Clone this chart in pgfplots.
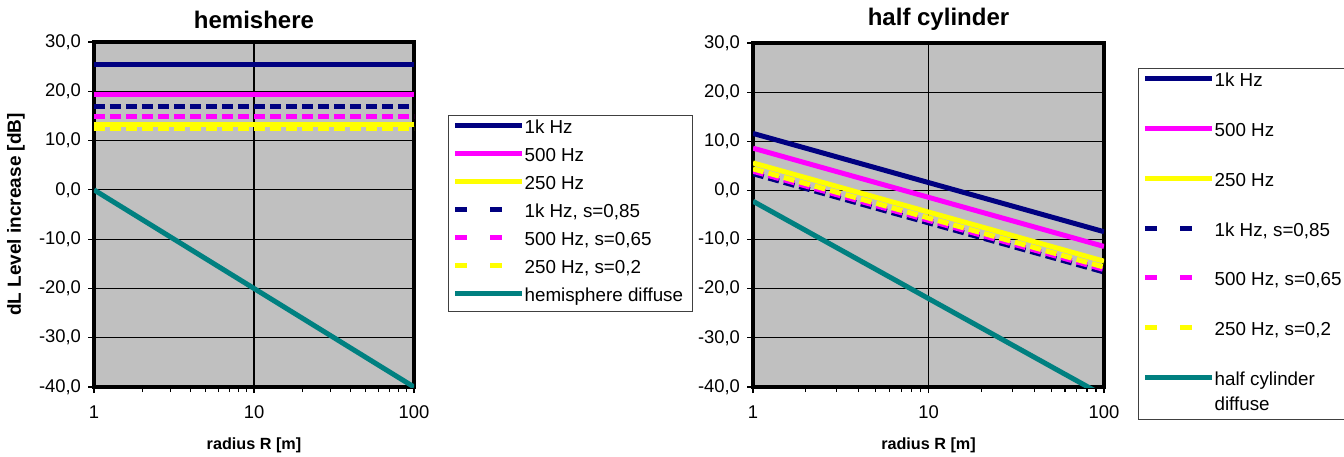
\documentclass[border=0pt]{standalone}
\usepackage{fontspec}
\setmainfont{Liberation Sans}
\usepackage{pgfplots}
\usepackage{pgfplotstable}
\pgfplotsset{compat=1.18}

\definecolor{navyc}{RGB}{0,0,128}
\definecolor{magc}{RGB}{255,0,255}
\definecolor{yelc}{RGB}{255,255,0}
\definecolor{tealc}{RGB}{0,128,128}
\definecolor{bgc}{RGB}{192,192,192}

% hemisphere
\pgfplotstableread{
R   f1k   f500  f250  s1k   s500  s250  diff
1   25.4  19.4  13.3  17.0  14.9  12.4    0.0
10  25.4  19.4  13.3  17.0  14.9  12.4  -20.0
100 25.4  19.4  13.3  17.0  14.9  12.4  -40.0
}\hemi
% half cylinder
\pgfplotstableread{
R   f1k   f500  f250  s1k   s500  s250  diff
1   11.6   8.6   5.6   3.4   3.9   4.4   -2.2
10   1.6  -1.4  -4.4  -6.6  -6.1  -5.6  -22.0
100 -8.4 -11.4 -14.4 -16.6 -16.1 -15.6  -41.8
}\cyl

\pgfplotsset{
  every axis/.append style={
    scale only axis,
    ymin=-40, ymax=30,
    xtick={1,10,100}, xticklabels={1,10,100},
    minor xtick={2,3,4,5,6,7,8,9,20,30,40,50,60,70,80,90},
    ytick={-40,-30,-20,-10,0,10,20,30},
    yticklabels={{-40,0},{-30,0},{-20,0},{-10,0},{0,0},{10,0},{20,0},{30,0}},
    axis background/.style={fill=bgc},
    xmajorgrids, ymajorgrids,
    major grid style={black, line width=0.6pt},
    axis line style={black, line width=1.6pt},
    tick align=outside, tick pos=left,
    major tick length=3pt, minor tick length=2.5pt,
    tick style={black, line width=0.6pt},
    ticklabel style={font=\fontsize{9.2}{11}\selectfont},
    xticklabel style={yshift=-3pt},
    title style={font=\bfseries\fontsize{12}{14}\selectfont, at={(axis description cs:0.5,1)}, anchor=base},
    xlabel style={font=\bfseries\fontsize{8.1}{10}\selectfont, at={(axis description cs:0.5,0)}, anchor=center, yshift=-29pt},
    legend style={draw=black!75, line width=0.6pt, fill=white, anchor=north west,
      inner xsep=2pt, inner ysep=1.5pt, cells={anchor=base west},
      nodes={inner sep=0pt, text depth={}, font=\fontsize{9.4}{10.8}\selectfont,
        execute at begin node=\strut, execute at end node=\hspace{2.5pt}}},
  },
  solidser/.style={line width=2.5pt, no marks},
  dashser/.style={line width=2.5pt, no marks, dash pattern=on 5.5pt off 2.5pt,
    legend image post style={dash pattern=on 6pt off 11.5pt}},
}

\begin{document}
\begin{tikzpicture}
\path[use as bounding box] (0,0) rectangle (672pt,228pt);

\begin{axis}[xmode=log, xmin=1, xmax=100,
  at={(47pt,34.5pt)}, anchor=south west,
  width=160pt, height=172.5pt,
  title={hemishere}, title style={yshift=1pt},
  xlabel={radius R [m]},
  ylabel={dL Level increase [dB]},
  ylabel style={font=\bfseries\fontsize{9.5}{11}\selectfont, at={(axis description cs:-0.2438,0.5)}, anchor=center},
  legend image code/.code={\draw[#1] (0pt,4pt) -- (33.5pt,4pt);},
  legend style={at={(1.10625,0.7884)}, row sep=3.2pt}]
\addplot[solidser, navyc] table[x=R, y=f1k] {\hemi};
\addlegendentry{1k Hz}
\addplot[solidser, magc] table[x=R, y=f500] {\hemi};
\addlegendentry{500 Hz}
\addplot[solidser, yelc] table[x=R, y=f250] {\hemi};
\addlegendentry{250 Hz}
\addplot[dashser, navyc] table[x=R, y=s1k] {\hemi};
\addlegendentry{1k Hz, s=0,85}
\addplot[dashser, magc] table[x=R, y=s500] {\hemi};
\addlegendentry{500 Hz, s=0,65}
\addplot[dashser, yelc] table[x=R, y=s250] {\hemi};
\addlegendentry{250 Hz, s=0,2}
\addplot[solidser, tealc] table[x=R, y=diff] {\hemi};
\addlegendentry{hemisphere diffuse}
\end{axis}

\begin{axis}[xmode=log, xmin=1, xmax=100,
  at={(376.5pt,34.5pt)}, anchor=south west,
  width=175.5pt, height=172pt,
  title={half cylinder}, title style={yshift=3pt, xshift=5pt},
  xlabel={radius R [m]},
  legend image code/.code={\draw[#1] (0pt,4pt) -- (33.5pt,4pt);},
  legend style={at={(1.0969,0.9273)}, row sep=14.1pt}]
\addplot[solidser, navyc] table[x=R, y=f1k] {\cyl};
\addlegendentry{1k Hz}
\addplot[solidser, magc] table[x=R, y=f500] {\cyl};
\addlegendentry{500 Hz}
\addplot[solidser, yelc] table[x=R, y=f250] {\cyl};
\addlegendentry{250 Hz}
\addplot[dashser, navyc] table[x=R, y=s1k] {\cyl};
\addlegendentry{1k Hz, s=0,85}
\addplot[dashser, magc] table[x=R, y=s500] {\cyl};
\addlegendentry{500 Hz, s=0,65}
\addplot[dashser, yelc] table[x=R, y=s250] {\cyl};
\addlegendentry{250 Hz, s=0,2}
\addplot[solidser, tealc] table[x=R, y=diff] {\cyl};
\addlegendentry{\begin{tabular}[t]{@{}l@{}}half cylinder\tabularnewline[1.5pt] diffuse\end{tabular}}
\end{axis}
\end{tikzpicture}
\end{document}
